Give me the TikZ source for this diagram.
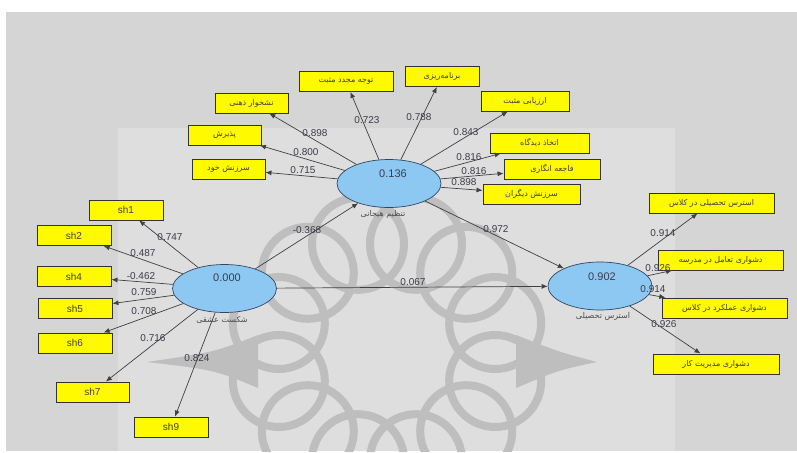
\documentclass[tikz,border=0pt]{standalone}
\usepackage{fontspec}
\setmainfont{Liberation Sans}
\newfontfamily\fa[Script=Arabic]{DejaVu Sans}
\TeXXeTstate=1
\usetikzlibrary{shapes.geometric,arrows.meta}
\definecolor{bgout}{RGB}{213,213,213}
\definecolor{bgin}{RGB}{222,222,222}
\definecolor{wmcol}{RGB}{190,190,190}
\definecolor{latfill}{RGB}{140,200,242}
\definecolor{latdraw}{RGB}{50,70,100}
\definecolor{indfill}{RGB}{255,250,0}
\definecolor{numcol}{RGB}{60,60,75}
\newcommand\persn[1]{{\fa\fontsize{8}{9}\selectfont\beginR #1\endR}}
\tikzset{
  ind/.style={draw=black!80, fill=indfill, line width=0.9pt, inner sep=0pt, minimum height=20pt, font=\fontsize{10}{12}\selectfont, text=black!75},
  lat/.style={ellipse, draw=latdraw, fill=latfill, line width=0.7pt, minimum width=104pt, minimum height=48pt, inner sep=0pt},
  lnk/.style={draw=black!75, line width=0.7pt, -{Latex[length=6pt,width=5pt]}},
  num/.style={font=\fontsize{10}{12}\selectfont, text=numcol, inner sep=0pt},
  val/.style={font=\fontsize{11}{13}\selectfont, text=numcol, inner sep=0pt},
  latname/.style={inner sep=0pt, text=black!70},
  wm/.style={draw=wmcol, line width=8pt}
}
\begin{document}
\begin{tikzpicture}[x=1pt,y=-1pt]
\useasboundingbox (0,0) rectangle (797,452);
\fill[white] (0,0) rectangle (797,452);
\fill[bgout] (6,12) rectangle (797,451);
\fill[bgin] (118,128) rectangle (675,451);

% watermark
\begin{scope}
\clip (118,128) rectangle (675,451);
\foreach \a in {15,45,...,345} \draw[wm] (387,352) ++(\a:112) circle (46pt);
\fill[wmcol] (258,335) .. controls (215,352) .. (147,362) .. controls (215,370) .. (258,388) -- cycle;
\fill[wmcol] (516,335) .. controls (559,352) .. (597,362) .. controls (559,370) .. (516,388) -- cycle;
\end{scope}

% latent variables
\node[lat] (E1) at (224.5,288.5) {};
\node[lat] (E2) at (389,183.5) {};
\node[lat] (E3) at (600,286) {};
\node[val] (v1) at (227,278) {0.000};
\node[val] (v2) at (393,174) {0.136};
\node[val] (v3) at (602,277) {0.902};
\node[latname] (n1) at (222,320) {\persn{شکست عشقی}};
\node[latname] (n2) at (383,214) {\persn{تنظیم هیجانی}};
\node[latname] (n3) at (603,316) {\persn{استرس تحصیلی}};

% left indicators
\node[ind, minimum width=74pt] (sh1) at (126,210) {sh1};
\node[ind, minimum width=74pt] (sh2) at (74,235.5) {sh2};
\node[ind, minimum width=74pt] (sh4) at (74,276.5) {sh4};
\node[ind, minimum width=74pt] (sh5) at (75,308.5) {sh5};
\node[ind, minimum width=74pt] (sh6) at (75,343) {sh6};
\node[ind, minimum width=73pt] (sh7) at (92.5,392) {sh7};
\node[ind, minimum width=74pt] (sh9) at (171,427) {sh9};

% top indicators
\node[ind, minimum width=73pt] (t1) at (251.5,103) {\persn{نشخوار ذهنی}};
\node[ind, minimum width=73pt] (t2) at (224.5,135) {\persn{پذیرش}};
\node[ind, minimum width=73pt] (t3) at (228.5,169) {\persn{سرزنش خود}};
\node[ind, minimum width=94pt] (t4) at (346,81.5) {\persn{توجه مجدد مثبت}};
\node[ind, minimum width=74pt] (t5) at (442,76.5) {\persn{برنامه‌ریزی}};
\node[ind, minimum width=88pt] (t6) at (525,101) {\persn{ارزیابی مثبت}};
\node[ind, minimum width=99pt] (t7) at (539.5,143) {\persn{اتخاذ دیدگاه}};
\node[ind, minimum width=96pt] (t8) at (552,169) {\persn{فاجعه انگاری}};
\node[ind, minimum width=97pt] (t9) at (531.5,194) {\persn{سرزنش دیگران}};

% right indicators
\node[ind, minimum width=125pt] (r1) at (711.5,203) {\persn{استرس تحصیلی در کلاس}};
\node[ind, minimum width=125pt] (r2) at (720.5,260) {\persn{دشواری تعامل در مدرسه}};
\node[ind, minimum width=125pt] (r3) at (724.5,308) {\persn{دشواری عملکرد در کلاس}};
\node[ind, minimum width=126pt] (r4) at (716,364) {\persn{دشواری مدیریت کار}};

% connectors
\foreach \t in {sh1,sh2,sh4,sh5,sh6,sh7,sh9} \draw[lnk] (E1) -- (\t);
\foreach \t in {t1,t2,t3,t4,t5,t6,t7,t8,t9} \draw[lnk] (E2) -- (\t);
\foreach \t in {r1,r2,r3,r4} \draw[lnk] (E3) -- (\t);
\draw[lnk] (E1) -- (E2);
\draw[lnk] (E1) -- (E3);
\draw[lnk] (E2) -- (E3);

% coefficients
\node[num] (c1) at (170,237) {0.747};
\node[num] (c2) at (143,253) {0.487};
\node[num] (c4) at (141,276) {-0.462};
\node[num] (c5) at (144,292) {0.759};
\node[num] (c6) at (144,311) {0.708};
\node[num] (c7) at (153,338) {0.716};
\node[num] (c9) at (197,358) {0.824};

\node[num] (d1) at (315,133) {0.898};
\node[num] (d2) at (306,152) {0.800};
\node[num] (d3) at (303,170) {0.715};
\node[num] (d4) at (367,120) {0.723};
\node[num] (d5) at (419,117) {0.788};
\node[num] (d6) at (466,132) {0.843};
\node[num] (d7) at (469,157) {0.816};
\node[num] (d8) at (474,171) {0.816};
\node[num] (d9) at (464,182) {0.898};

\node[num] (p1) at (307,230) {-0.368};
\node[num] (p2) at (496,229) {0.972};
\node[num] (p3) at (413,282) {0.067};

\node[num] (q1) at (663,233) {0.914};
\node[num] (q2) at (658,268) {0.926};
\node[num] (q3) at (653,289) {0.914};
\node[num] (q4) at (664,324) {0.926};
\end{tikzpicture}
\end{document}
